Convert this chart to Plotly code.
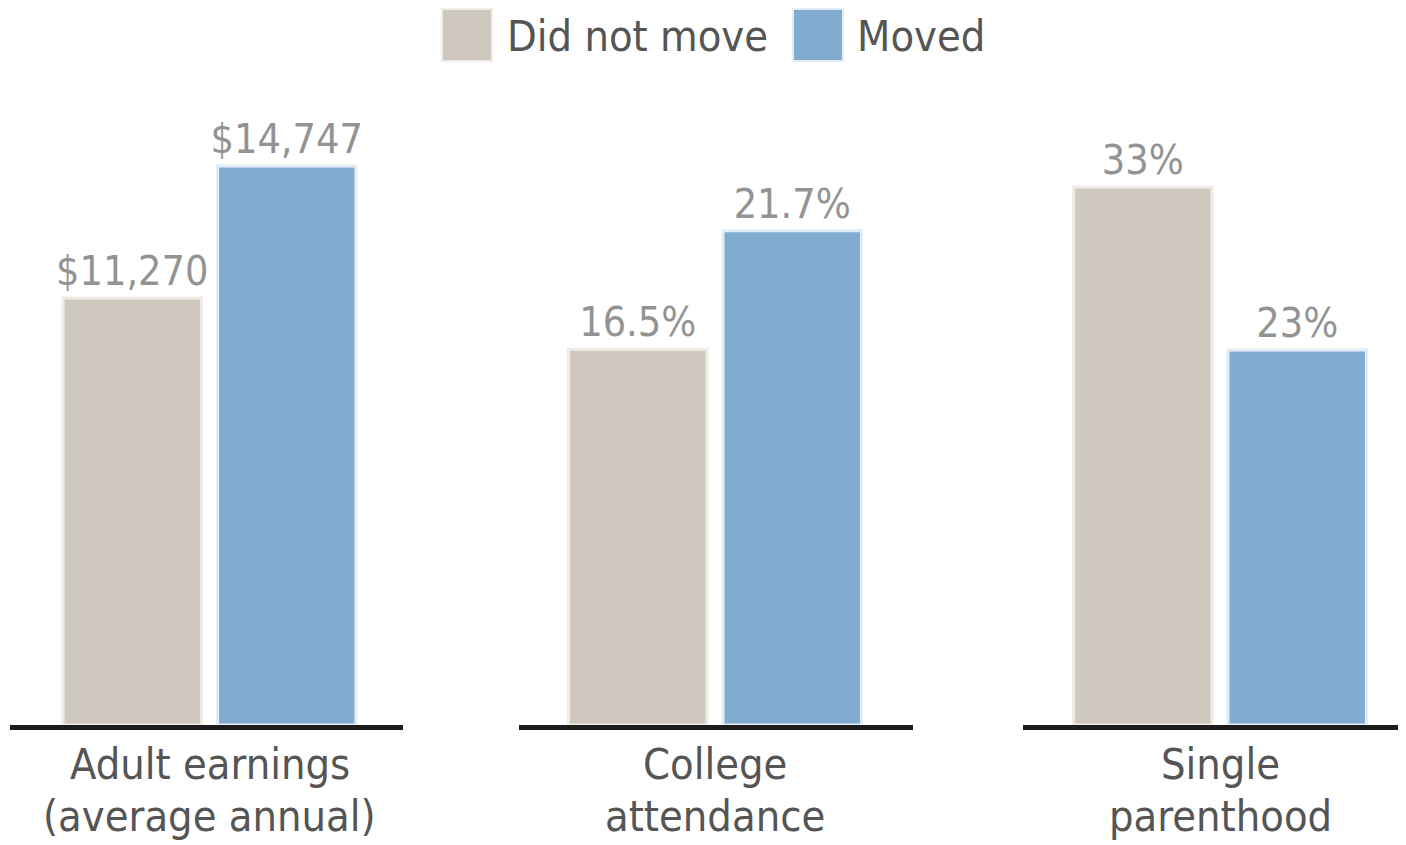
import plotly.graph_objects as go
from plotly.subplots import make_subplots

categories = ["Adult earnings<br>(average annual)", "College<br>attendance", "Single<br>parenthood"]
series_names = ["Did not move", "Moved"]
did_not_move = [11270, 16.5, 33]
moved = [14747, 21.7, 23]
label_did_not_move = ["$11,270", "16.5%", "33%"]
label_moved = ["$14,747", "21.7%", "23%"]

colors = ["#cfc8be", "#82abd0"]
edge_colors = ["#efebe6", "#e3edf6"]
FONT = "Liberation Sans Narrow, Arial Narrow, DejaVu Sans Condensed, sans-serif"

W, H = 1406, 845
OFF = 8  # page body margin offset
BASE = 725 - OFF          # baseline in figure px
TOP = 130 - OFF
BOTTOM = H - BASE
plot_h = H - TOP - BOTTOM


def px(x):
    return (x - OFF) / W


def py(y):
    return (BASE - (y - OFF)) / plot_h


fig = make_subplots(rows=1, cols=3, shared_yaxes=False)

series_vals = [did_not_move, moved]
series_labels = [label_did_not_move, label_moved]
for i, cat in enumerate(categories):
    for s in range(2):
        fig.add_trace(go.Bar(
            x=[cat], y=[series_vals[s][i]], name=series_names[s],
            text=[series_labels[s][i]], textposition="outside",
            constraintext="none",
            textfont=dict(family=FONT, size=41, color="#939393"),
            marker=dict(color=colors[s], line=dict(color=edge_colors[s], width=3)),
            showlegend=False, cliponaxis=False,
        ), row=1, col=i + 1)

# layout of panels (reference pixel extents of each axis line)
panel_px = [(10, 403), (519, 913), (1023, 1406)]
domains = [(px(a), min(px(b), 1.0)) for a, b in panel_px]
xranges = [(-0.5076, 0.4924), (-0.4987, 0.5038), (-0.5013, 0.4733)]
yranges = [(0, 15700), (0, 26.12), (0, 36.5)]
centers = [209.5, 715, 1220]

for i in range(3):
    xa = "xaxis" if i == 0 else f"xaxis{i+1}"
    ya = "yaxis" if i == 0 else f"yaxis{i+1}"
    fig.layout[xa].update(domain=list(domains[i]), range=list(xranges[i]),
                          showline=True, linecolor="#1c1c1c", linewidth=5,
                          showticklabels=False, ticks="", showgrid=False, zeroline=False,
                          fixedrange=True)
    fig.layout[ya].update(range=list(yranges[i]), visible=False, showgrid=False,
                          zeroline=False, fixedrange=True)

annotations = []
# category labels (two lines each)
for i, cat in enumerate(categories):
    lines = cat.split("<br>")
    for j, ln in enumerate(lines):
        annotations.append(dict(
            text=ln, xref="paper", yref="paper",
            x=px(centers[i]), y=0, yanchor="top", yshift=-12 - j * 52,
            xanchor="center", showarrow=False,
            font=dict(family=FONT, size=43, color="#555555"),
        ))

# legend drawn manually
shapes = []
leg_sq = [(442, 492), (793, 843)]
leg_tx = [505, 855]
for s in range(2):
    shapes.append(dict(type="rect", xref="paper", yref="paper",
                       x0=px(leg_sq[s][0]), x1=px(leg_sq[s][1]),
                       y0=py(61), y1=py(9),
                       fillcolor=colors[s], line=dict(color=edge_colors[s], width=2)))
    annotations.append(dict(text=series_names[s], xref="paper", yref="paper",
                            x=px(leg_tx[s]), y=py(36),
                            xanchor="left", yanchor="middle", showarrow=False,
                            font=dict(family=FONT, size=43, color="#555555")))

fig.update_layout(
    width=W, height=H,
    margin=dict(l=0, r=0, t=TOP, b=BOTTOM),
    paper_bgcolor="white", plot_bgcolor="white",
    barmode="group", bargap=0.214, bargroupgap=0.1036,
    showlegend=False,
    annotations=annotations, shapes=shapes,
    font=dict(family=FONT),
)

fig.write_html("out.html")
